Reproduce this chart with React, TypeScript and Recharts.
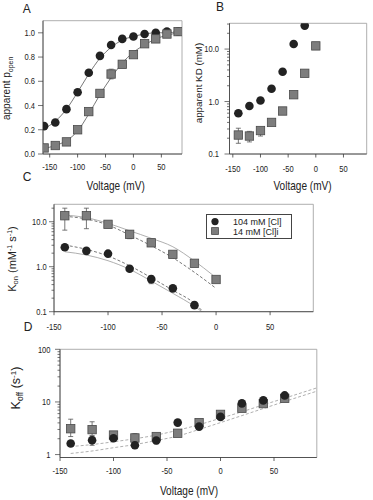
import React from 'react';
import { ComposedChart, Scatter, Line, XAxis, YAxis, ErrorBar, ReferenceArea } from 'recharts';

const SANS = '"Liberation Sans", Arial, Helvetica, sans-serif';
const SX = 0.84;
const INK = '#222';
const AXIS = '#3a3a3a';
const FRAME = '#9a9a9a';
const SQ_FILL = '#7d7d7d';
const SQ_EDGE = '#4a4a4a';
const FIT_DARK = '#555';
const FIT_LIGHT = '#9a9a9a';

// ---------- Panel A : apparent p_open ----------
const aVolt = [-160, -140, -120, -100, -80, -60, -40, -20, 0, 20, 40, 60, 80];
const aPopen104 = [0.23, 0.26, 0.37, 0.51, 0.67, 0.81, 0.9, 0.95, 0.97, 0.99, 1.0, 1.01, 1.01];
const aPopen14 = [0.05, 0.07, 0.1, 0.2, 0.35, 0.5, 0.66, 0.74, 0.82, 0.91, 0.95, 0.99, 1.01];
const aErrLo14 = [null, null, null, null, null, null, 0.62, null, null, null, null, null, null];
const aErrHi14 = [null, null, null, null, null, null, 0.7, null, null, null, null, null, null];
const aFitVolt = [-160, -140, -120, -100, -80, -60, -40, -20, 0, 20, 40, 60, 80];
const aFit104 = [0.21, 0.27, 0.37, 0.51, 0.66, 0.79, 0.88, 0.94, 0.97, 0.99, 1.0, 1.0, 1.01];
const aFit14 = [0.045, 0.07, 0.11, 0.19, 0.33, 0.49, 0.63, 0.75, 0.84, 0.9, 0.95, 0.98, 1.0];

// ---------- Panel B : apparent KD ----------
const bVolt104 = [-140, -120, -100, -80, -60, -40, -20];
const bKd104 = [0.6, 0.82, 1.05, 1.75, 3.7, 12.5, 28];
const bVolt14 = [-140, -120, -100, -80, -60, -40, -20, 0];
const bKd14 = [0.23, 0.22, 0.28, 0.4, 0.66, 1.35, 3.45, 11.5];
const bErrLo14 = [0.16, 0.17, 0.22, null, null, null, null, null];
const bErrHi14 = [0.31, 0.27, 0.3, null, null, null, null, null];

// ---------- Panel C : Kon ----------
const cVolt104 = [-140, -120, -100, -80, -60, -40, -20];
const cKon104 = [2.7, 2.25, 1.95, 0.9, 0.53, 0.33, 0.14];
const cErrLo104 = [null, null, null, 0.8, 0.42, null, null];
const cErrHi104 = [null, null, null, 1.0, 0.62, null, null];
const cVolt14 = [-140, -120, -100, -80, -60, -40, -20, 0];
const cKon14 = [13.6, 13.6, 8.75, 5.25, 3.4, 1.88, 1.19, 0.52];
const cErrLo14 = [6.5, 7, 7.8, 4.2, 3.0, 1.6, null, null];
const cErrHi14 = [20, 20, 9.6, 6.3, 3.9, 2.1, null, null];
const cFitVolt104 = [-140, -120, -100, -80, -60, -40, -20, -12];
const cFitDash104 = [3.03, 2.43, 1.73, 1.05, 0.57, 0.3, 0.153, 0.1];
const cFitSolidVolt104 = [-140, -120, -100, -80, -60, -40, -20, -13];
const cFitSolid104 = [2.15, 1.82, 1.36, 0.875, 0.48, 0.256, 0.132, 0.1];
const cFitVolt14 = [-140, -120, -100, -80, -60, -40, -20, 0];
const cFitDash14 = [13.2, 11.5, 8.45, 5.06, 2.93, 1.58, 0.75, 0.33];
const cFitSolidVolt14 = [-140, -120, -100, -80, -60, -40, -20, -3];
const cFitSolid14 = [14.1, 12.3, 9.2, 6.3, 4.28, 2.78, 1.34, 0.65];

// ---------- Panel D : Koff ----------
const dVolt = [-140, -120, -100, -80, -60, -40, -20, 0, 20, 40, 60];
const dKoff104 = [1.62, 1.87, 2.04, 1.5, 1.85, 4.05, 3.4, 5.2, 9.4, 10.7, 13.3];
const dErrLo104 = [null, 1.5, null, 1.3, 1.6, null, null, null, null, null, null];
const dErrHi104 = [null, 2.2, null, 1.7, 2.1, null, null, null, null, null, null];
const dKoff14 = [3.1, 2.98, 2.35, 2.07, 2.2, 2.54, 4.05, 5.8, 7.6, 9.3, 11.7];
const dErrLo14 = [2.2, 2.3, 2.0, 1.7, null, null, null, null, null, null, null];
const dErrHi14 = [4.7, 4.2, 2.7, 2.5, null, null, null, null, null, null, null];
const dFitVolt = [-140, -120, -100, -80, -60, -40, -20, 0, 20, 40, 60, 90];
const dFitDash = [1.42, 1.55, 1.75, 2.0, 2.35, 2.9, 3.7, 4.9, 6.5, 8.8, 11.8, 18.5];
const dFitSolid = [1.05, 1.17, 1.35, 1.55, 1.85, 2.25, 3.0, 4.05, 5.5, 7.5, 10.2, 16];

// ---------- ticks ----------
const xTicksAll = [-150, -100, -50, 0, 50];
const aYTicks = [0, 0.2, 0.4, 0.6, 0.8, 1.0];
const bYTicks = [0.1, 0.2, 0.3, 0.4, 0.5, 0.6, 0.7, 0.8, 0.9, 1, 2, 3, 4, 5, 6, 7, 8, 9, 10, 20, 30];
const cYTicks = [0.1, 0.2, 0.3, 0.4, 0.5, 0.6, 0.7, 0.8, 0.9, 1, 2, 3, 4, 5, 6, 7, 8, 9, 10, 20];
const dYTicks = [1, 2, 3, 4, 5, 6, 7, 8, 9, 10, 20, 30, 40, 50, 60, 70, 80, 90, 100];
const logMajorsBC = [0.1, 1, 10];
const logMajorsD = [1, 10, 100];

const legendLabels = ['104 mM [Cl]', '14 mM [Cl]i'];

type Pt = { v: number; y: number; err?: [number, number] };
const pts = (xs: number[], ys: number[], lo?: (number | null)[], hi?: (number | null)[]): Pt[] =>
  xs.map((v, i) => {
    const p: Pt = { v, y: ys[i] };
    if (lo && hi && lo[i] != null && hi[i] != null) p.err = [ys[i] - (lo[i] as number), (hi[i] as number) - ys[i]];
    return p;
  });

const Dot = (p: any) => (p.cx == null ? null : <circle cx={p.cx} cy={p.cy} r={4.3} fill={INK} />);
const Sq = (p: any) =>
  p.cx == null ? null : (
    <rect x={p.cx - 4.2} y={p.cy - 4.2} width={8.4} height={8.4} fill={SQ_FILL} stroke={SQ_EDGE} strokeWidth={0.8} />
  );

const NText = ({ x, y, anchor, size, children }: { x: number; y: number; anchor: 'start' | 'middle' | 'end'; size: number; children: React.ReactNode }) => (
  <text transform={`translate(${x} ${y}) scale(${SX} 1)`} x={0} y={0} textAnchor={anchor} fontSize={size} fontFamily={SANS} fill={INK}>
    {children}
  </text>
);

const makeXTick = (dy: number) => (p: any) => {
  const { x, y, payload } = p;
  const ay = y - 4;
  return (
    <g>
      <line x1={x} x2={x} y1={ay} y2={ay + 3.5} stroke={AXIS} strokeWidth={0.8} />
      <NText x={x} y={ay + dy} anchor="middle" size={9}>{String(payload.value)}</NText>
    </g>
  );
};

const makeYTick = (majors: number[], fmt: (v: number) => string, gap: number) => (p: any) => {
  const { x, y, payload } = p;
  const ax = x + 4;
  const v = payload.value as number;
  const major = majors.some((m) => Math.abs(m - v) < 1e-9);
  return (
    <g>
      <line x1={ax - (major ? 5 : 2.5)} x2={ax} y1={y} y2={y} stroke={AXIS} strokeWidth={0.7} />
      {major && <NText x={ax - gap} y={y + 3.2} anchor="end" size={9}>{fmt(v)}</NText>}
    </g>
  );
};

type Cfg = {
  left: number; top: number; width: number; height: number;
  mTop: number; mRight: number; yWidth: number; xHeight: number;
  xDomain: [number, number]; yDomain: [number, number]; log: boolean;
  yTicks: number[]; yMajors: number[]; yFmt: (v: number) => string; yGap: number; xDy: number;
};

const Panel = ({ cfg, children }: { cfg: Cfg; children: React.ReactNode }) => (
  <div style={{ position: 'absolute', left: cfg.left, top: cfg.top, width: cfg.width, height: cfg.height }}>
    <ComposedChart
      width={cfg.width}
      height={cfg.height}
      margin={{ top: cfg.mTop, right: cfg.mRight, left: 0, bottom: 0 }}
    >
      <XAxis
        dataKey="v"
        type="number"
        domain={cfg.xDomain}
        allowDataOverflow
        ticks={xTicksAll}
        interval={0}
        height={cfg.xHeight}
        tickSize={4}
        tickMargin={0}
        tickLine={false}
        axisLine={{ stroke: AXIS, strokeWidth: 0.8 }}
        tick={makeXTick(cfg.xDy)}
      />
      <YAxis
        dataKey="y"
        type="number"
        scale={cfg.log ? 'log' : 'linear'}
        domain={cfg.yDomain}
        allowDataOverflow
        ticks={cfg.yTicks}
        interval={0}
        width={cfg.yWidth}
        tickSize={4}
        tickMargin={0}
        tickLine={false}
        axisLine={{ stroke: AXIS, strokeWidth: 0.8 }}
        tick={makeYTick(cfg.yMajors, cfg.yFmt, cfg.yGap)}
      />
      <ReferenceArea
        x1={cfg.xDomain[0]}
        x2={cfg.xDomain[1]}
        y1={cfg.yDomain[0]}
        y2={cfg.yDomain[1]}
        fill="none"
        stroke={FRAME}
        strokeWidth={0.8}
        ifOverflow="visible"
      />
      {children}
    </ComposedChart>
  </div>
);

const fitLine = (key: string, data: Pt[], stroke: string, dashed: boolean) => (
  <Line key={key} data={data} dataKey="y" type="monotone" stroke={stroke} strokeWidth={0.8}
    strokeDasharray={dashed ? '3 2' : undefined} dot={false} activeDot={false} isAnimationActive={false} />
);

const scat = (key: string, data: Pt[], shape: any, withErr: boolean) => (
  <Scatter key={key} data={data} dataKey="y" shape={shape} isAnimationActive={false}>
    {withErr ? <ErrorBar dataKey="err" direction="y" width={2.5} stroke="#555" strokeWidth={0.8} /> : null}
  </Scatter>
);

const fmt1 = (v: number) => v.toFixed(1);

const cfgA: Cfg = {
  left: 0, top: 0, width: 190, height: 200, mTop: 20.7, mRight: 8, yWidth: 43, xHeight: 46,
  xDomain: [-162, 87], yDomain: [0, 1.1], log: false, yTicks: aYTicks, yMajors: aYTicks, yFmt: fmt1, yGap: 8, xDy: 15.7,
};
const cfgB: Cfg = {
  left: 190, top: 0, width: 183, height: 200, mTop: 23.3, mRight: 6.3, yWidth: 39.5, xHeight: 46,
  xDomain: [-156, 92], yDomain: [0.1, 31], log: true, yTicks: bYTicks, yMajors: logMajorsBC, yFmt: fmt1, yGap: 10.5, xDy: 18.3,
};
const cfgC: Cfg = {
  left: 0, top: 195, width: 373, height: 140, mTop: 9.3, mRight: 59.7, yWidth: 54, xHeight: 23.3,
  xDomain: [-150, 90], yDomain: [0.1, 24.4], log: true, yTicks: cYTicks, yMajors: logMajorsBC, yFmt: fmt1, yGap: 7.3, xDy: 18,
};
const cfgD: Cfg = {
  left: 0, top: 340, width: 373, height: 160, mTop: 9.3, mRight: 56.2, yWidth: 60, xHeight: 42.5,
  xDomain: [-150, 90], yDomain: [0.88, 100], log: true, yTicks: dYTicks, yMajors: logMajorsD, yFmt: (v) => String(v), yGap: 9.5, xDy: 16.7,
};

export default function App() {
  return (
    <div style={{ position: 'absolute', left: 0, top: 0, width: 373, height: 500, background: '#fff', overflow: 'hidden', fontFamily: SANS }}>
      <Panel cfg={cfgA}>
        {fitLine('a1', pts(aFitVolt, aFit104), FIT_DARK, false)}
        {fitLine('a2', pts(aFitVolt, aFit14), FIT_DARK, false)}
        {scat('a3', pts(aVolt, aPopen104), Dot, false)}
        {scat('a4', pts(aVolt, aPopen14, aErrLo14, aErrHi14), Sq, true)}
      </Panel>
      <Panel cfg={cfgB}>
        {scat('b1', pts(bVolt104, bKd104), Dot, false)}
        {scat('b2', pts(bVolt14, bKd14, bErrLo14, bErrHi14), Sq, true)}
      </Panel>
      <Panel cfg={cfgC}>
        {fitLine('c1', pts(cFitVolt104, cFitDash104), FIT_DARK, true)}
        {fitLine('c2', pts(cFitSolidVolt104, cFitSolid104), FIT_LIGHT, false)}
        {fitLine('c3', pts(cFitVolt14, cFitDash14), FIT_DARK, true)}
        {fitLine('c4', pts(cFitSolidVolt14, cFitSolid14), FIT_LIGHT, false)}
        {scat('c5', pts(cVolt104, cKon104, cErrLo104, cErrHi104), Dot, true)}
        {scat('c6', pts(cVolt14, cKon14, cErrLo14, cErrHi14), Sq, true)}
      </Panel>
      <Panel cfg={cfgD}>
        {fitLine('d1', pts(dFitVolt, dFitDash), FIT_LIGHT, true)}
        {fitLine('d2', pts(dFitVolt, dFitSolid), FIT_LIGHT, true)}
        {scat('d3', pts(dVolt, dKoff14, dErrLo14, dErrHi14), Sq, true)}
        {scat('d4', pts(dVolt, dKoff104, dErrLo104, dErrHi104), Dot, true)}
      </Panel>

      {/* legend of panel C */}
      <div style={{ position: 'absolute', left: 206, top: 214, width: 86, height: 25, border: '1px solid #444', background: '#fff', boxSizing: 'border-box' }}>
        <svg width={86} height={25} style={{ position: 'absolute', left: -1, top: -1 }}>
          <circle cx={9} cy={7.6} r={3.6} fill={INK} />
          <rect x={5.6} y={13.6} width={6.8} height={6.8} fill={SQ_FILL} stroke={SQ_EDGE} strokeWidth={0.8} />
          <text x={27} y={10.6} fontSize={9} fontFamily={SANS} fill={INK}>{legendLabels[0]}</text>
          <text x={27} y={20.6} fontSize={9} fontFamily={SANS} fill={INK}>{legendLabels[1]}</text>
        </svg>
      </div>

      {/* panel letters and axis titles */}
      <svg width={373} height={500} style={{ position: 'absolute', left: 0, top: 0, pointerEvents: 'none' }}>
        <g fontFamily={SANS} fill={INK}>
          <text x={26.7} y={12.5} fontSize={12} textAnchor="middle">A</text>
          <text x={220} y={10.5} fontSize={12} textAnchor="middle">B</text>
          <text x={27} y={180.5} fontSize={12} textAnchor="middle">C</text>
          <text x={28} y={330.5} fontSize={12} textAnchor="middle">D</text>
        </g>
        <NText x={115.7} y={189.5} anchor="middle" size={12}>Voltage (mV)</NText>
        <NText x={302.5} y={189.5} anchor="middle" size={12}>Voltage (mV)</NText>
        <NText x={189} y={494.5} anchor="middle" size={12}>Voltage (mV)</NText>
        <g fontFamily={SANS} fill={INK} textAnchor="middle">
          <text x={10.5} y={88.3} fontSize={10} transform="rotate(-90 10.5 88.3)">
            apparent p<tspan dy={2.5} fontSize={7}>open</tspan>
          </text>
          <text x={201.5} y={83} fontSize={9.8} transform="rotate(-90 201.5 83)">apparent KD (mM)</text>
          <text x={15.5} y={259} fontSize={11} transform="rotate(-90 15.5 259)">
            K<tspan dy={2.5} fontSize={7.5}>on</tspan>
            <tspan dy={-2.5}> (mM</tspan>
            <tspan dy={-3.5} fontSize={7}>-1</tspan>
            <tspan dy={3.5}> s</tspan>
            <tspan dy={-3.5} fontSize={7}>-1</tspan>
            <tspan dy={3.5}>)</tspan>
          </text>
          <text x={19.5} y={388} fontSize={12.5} transform="rotate(-90 19.5 388)">
            K<tspan dy={3} fontSize={8.5}>off</tspan>
            <tspan dy={-3}> (s</tspan>
            <tspan dy={-4} fontSize={8}>-1</tspan>
            <tspan dy={4}>)</tspan>
          </text>
        </g>
      </svg>
    </div>
  );
}
